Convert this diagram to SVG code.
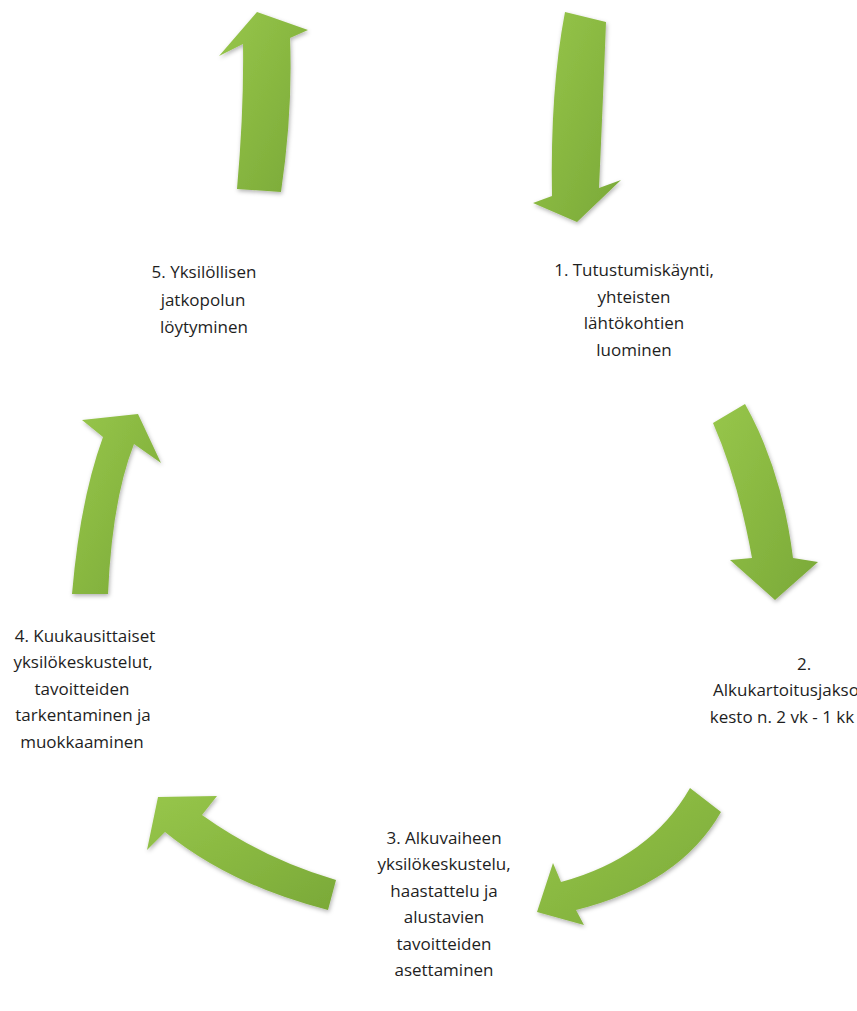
<svg xmlns="http://www.w3.org/2000/svg" width="857" height="1011" viewBox="0 0 857 1011">
<defs>
<linearGradient id="g" x1="0" y1="0" x2="1" y2="1">
<stop offset="0" stop-color="#97c64a"/>
<stop offset="1" stop-color="#7aa938"/>
</linearGradient>
<filter id="sh" x="-20%" y="-20%" width="140%" height="140%">
<feDropShadow dx="1" dy="2" stdDeviation="2" flood-color="#000" flood-opacity="0.3"/>
</filter>
<style>
.arr{fill:url(#g);filter:url(#sh);}
.t{font-family:"Open Sans","Liberation Sans",sans-serif;font-size:17px;fill:#1e1e1e;text-anchor:middle;}
</style>
</defs>
<rect width="857" height="1011" fill="#fff"/>
<g id="connectors">
<path id="arrow-5-top" class="arr" d="M257,12 L308,30 L290,38 Q293,110 281,192 L237,189 Q244,110 243,44 L219,56 Z"/>
<path id="arrow-top-1" class="arr" d="M565,12 L606,22 Q603,100 599,188 L621,180 L577,222 L533,203 L552,196 Q550,90 565,12 Z"/>
<path id="arrow-1-2" class="arr" d="M713,423 L745,404 Q782,470 793,558 L818,562 L775,600 L730,560 L752,558 Q738,480 713,423 Z"/>
<path id="arrow-2-3" class="arr" d="M690,788 L721,812 Q680,884 576,910 L584,925 L537,912 L553,863 L561,882 Q650,858 690,788 Z"/>
<path id="arrow-3-4" class="arr" d="M158,797 L217,796 L202,815 Q262,858 336,880 L328,910 Q230,885 165,832 L147,850 Z"/>
<path id="arrow-4-5" class="arr" d="M138,414 L161,463 L134,444 Q112,500 108,594 L72,594 Q80,500 103,437 L82,420 Z"/>
</g>
<g id="node1">
<text class="t" x="634" y="276">1. Tutustumiskäynti,</text>
<text class="t" x="634" y="303">yhteisten</text>
<text class="t" x="634" y="329">lähtökohtien</text>
<text class="t" x="634" y="356">luominen</text>
</g>
<g id="node2">
<text class="t" x="804" y="670">2.</text>
<text class="t" x="786" y="696">Alkukartoitusjakso</text>
<text class="t" x="782" y="723">kesto n. 2 vk - 1 kk</text>
</g>
<g id="node3">
<text class="t" x="444" y="844">3. Alkuvaiheen</text>
<text class="t" x="444" y="870">yksilökeskustelu,</text>
<text class="t" x="444" y="897">haastattelu ja</text>
<text class="t" x="444" y="923">alustavien</text>
<text class="t" x="444" y="950">tavoitteiden</text>
<text class="t" x="444" y="976">asettaminen</text>
</g>
<g id="node4">
<text class="t" x="85" y="642">4. Kuukausittaiset</text>
<text class="t" x="83" y="668">yksilökeskustelut,</text>
<text class="t" x="82" y="695">tavoitteiden</text>
<text class="t" x="83" y="721">tarkentaminen ja</text>
<text class="t" x="82" y="748">muokkaaminen</text>
</g>
<g id="node5">
<text class="t" x="204" y="278">5. Yksilöllisen</text>
<text class="t" x="203" y="306">jatkopolun</text>
<text class="t" x="204" y="333">löytyminen</text>
</g>
</svg>
